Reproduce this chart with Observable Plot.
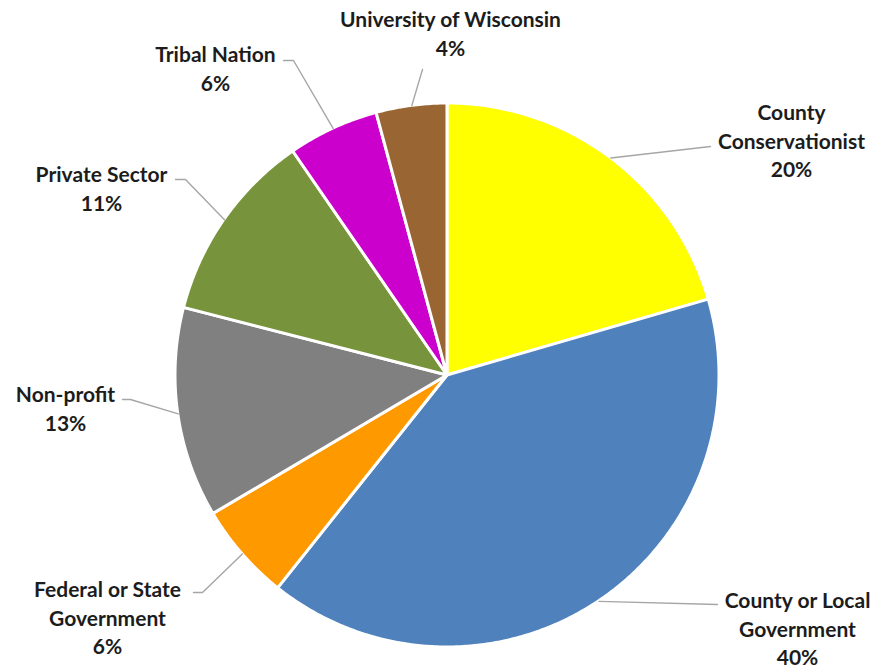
<!DOCTYPE html>
<html>
<head>
<meta charset="utf-8">
<script src="https://cdn.jsdelivr.net/npm/d3@7"></script>
<script src="https://cdn.jsdelivr.net/npm/@observablehq/plot@0.6"></script>
<style>
  html, body { margin: 0; padding: 0; background: #ffffff; }
  #chart svg { display: block; }
</style>
</head>
<body>
<div id="chart"></div>
<script>
// ---- data ----
const categories = [
  "County Conservationist",
  "County or Local Government",
  "Federal or State Government",
  "Non-profit",
  "Private Sector",
  "Tribal Nation",
  "University of Wisconsin"
];
const shares = [20.5, 40.2, 5.8, 12.5, 11.4, 5.4, 4.2];
const percentLabels = ["20%", "40%", "6%", "13%", "11%", "6%", "4%"];
const labelLines = [
  "County\nConservationist",
  "County or Local\nGovernment",
  "Federal or State\nGovernment",
  "Non-profit",
  "Private Sector",
  "Tribal Nation",
  "University of Wisconsin"
];

// ---- styles ----
const colors = ["#ffff00", "#4f81bd", "#ff9900", "#808080", "#77933c", "#cc00cc", "#996633"];

// ---- layout ----
const W = 878, H = 670;
const CX = 447, CY = 375, R = 272; // pie centre and radius in pixels
const ux = px => (px - CX) / R;      // pixel -> pie units
const uy = py => (CY - py) / R;
// label centre, optional elbow, and leader end (pixels), per category
const labelLayout = [
  {text: [791, 139], elbow: null,      end: [710, 146]},
  {text: [797, 627], elbow: null,      end: [717, 604]},
  {text: [107, 616], elbow: [202, 592], end: [193, 592]},
  {text: [65, 407],  elbow: [130, 399], end: [122, 399]},
  {text: [101, 187], elbow: [185, 179], end: [175, 179]},
  {text: [215, 67],  elbow: [293, 60],  end: [283, 60]},
  {text: [450, 32],  elbow: null,      end: [422, 69]}
];

// ---- derived geometry ----
const arcs = d3.pie().sort(null).startAngle(0).endAngle(2 * Math.PI)(shares);

const slicePts = [];
arcs.forEach((a, i) => {
  const n = Math.max(8, Math.ceil((a.endAngle - a.startAngle) / (Math.PI / 360)));
  for (let k = 0; k <= n; k++) {
    const t = a.startAngle + (a.endAngle - a.startAngle) * k / n;
    slicePts.push({cat: categories[i], x: Math.sin(t), y: Math.cos(t)});
  }
});

const leaderPts = [];
arcs.forEach((a, i) => {
  const m = (a.startAngle + a.endAngle) / 2;
  const L = labelLayout[i];
  leaderPts.push({cat: categories[i], x: Math.sin(m), y: Math.cos(m)});
  if (L.elbow) leaderPts.push({cat: categories[i], x: ux(L.elbow[0]), y: uy(L.elbow[1])});
  leaderPts.push({cat: categories[i], x: ux(L.end[0]), y: uy(L.end[1])});
});

const labels = categories.map((c, i) => ({
  cat: c,
  text: labelLines[i] + "\n" + percentLabels[i],
  x: ux(labelLayout[i].text[0]),
  y: uy(labelLayout[i].text[1])
}));

const chart = Plot.plot({
  width: W,
  height: H,
  margin: 0,
  style: {background: "#ffffff"},
  x: {domain: [ux(0), ux(W)], axis: null},
  y: {domain: [uy(H), uy(0)], axis: null},
  color: {domain: categories, range: colors},
  marks: [
    Plot.area(slicePts, {
      x1: "x", y1: "y", x2: 0, y2: 0, z: "cat",
      fill: "cat", stroke: "#ffffff", strokeWidth: 3, strokeLinejoin: "round"
    }),
    Plot.line(leaderPts, {
      x: "x", y: "y", z: "cat", stroke: "#a6a6a6", strokeWidth: 1.4
    }),
    Plot.text(labels, {
      x: "x", y: "y", text: "text",
      fontFamily: "Lato", fontWeight: "bold", fontSize: 21,
      lineHeight: 1.36, fill: "#1c1c1c"
    })
  ]
});
document.getElementById("chart").appendChild(chart);
</script>
</body>
</html>
